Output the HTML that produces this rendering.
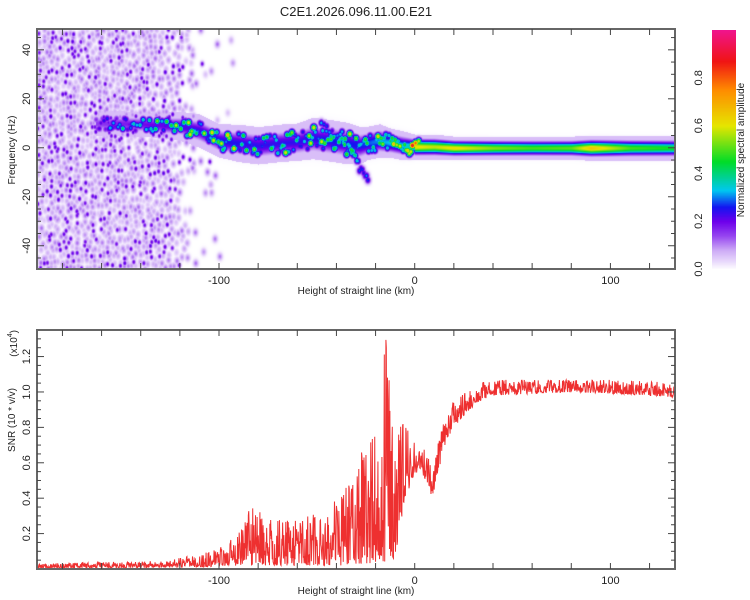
<!DOCTYPE html>
<html><head><meta charset="utf-8">
<style>
html,body{margin:0;padding:0;background:#fff;}
#wrap{position:relative;width:750px;height:600px;font-family:"Liberation Sans",sans-serif;}
canvas{position:absolute;}
svg{position:absolute;left:0;top:0;}
text{font-family:"Liberation Sans",sans-serif;fill:#222;}
</style></head>
<body>
<div id="wrap">
<canvas id="heat" width="638" height="240" style="left:37px;top:29px"></canvas>
<canvas id="cbar" width="24" height="239" style="left:712px;top:30px"></canvas>
<svg id="ov" width="750" height="600"></svg>
</div>
<script>
// ---- data ----
const xDomain = [-193, 133];
const freqDomain = [-49.5, 48.5];
const snrDomain = [0, 1.35];
const xTicks = [-180,-160,-140,-120,-100,-80,-60,-40,-20,0,20,40,60,80,100,120];
const xTickLabels = [-100, 0, 100];
const freqTickLabels = [40, 20, 0, -20, -40];
const snrTickLabels = [0.2, 0.4, 0.6, 0.8, 1.0, 1.2];
const cbarTickLabels = [0.0, 0.2, 0.4, 0.6, 0.8];
// ridge (main signal) : height km, centre freq Hz, amplitude, half-width Hz
const ridgeKm   = [-163,-150,-135,-120,-110,-100,-90,-80,-69,-60,-52,-43,-35,-28,-24,-18,-12,-6,0,10,20,40,60,80,90,110,133];
const ridgeFreq = [10,10,9.5,9,7,3,2,1,2,2.5,4,3,2,1,2,3,2,1,0.5,0.5,0,0,0,0,0,0,0];
const ridgeAmp  = [0.3,0.35,0.4,0.45,0.48,0.52,0.5,0.48,0.48,0.48,0.5,0.52,0.52,0.52,0.57,0.62,0.67,0.67,0.77,0.72,0.77,0.67,0.62,0.64,0.82,0.62,0.57];
const ridgeWidth= [3,3,3,3.5,4,4,4.5,4.5,4.5,4.5,5,5,5,4.5,4,4,3.5,3.5,3,3,2.8,2.8,2.8,2.8,3,3,3];
// secondary descending branch
const branchKm   = [-48,-40,-34,-28,-24];
const branchFreq = [9,5,0,-8,-13];
const branchAmp  = [0.3,0.4,0.45,0.35,0.25];
// background noise density
const noiseKm   = [-193,-150,-132,-124,-118,-110,-100,-92,133];
const noiseLevel= [1.0,0.95,0.85,0.55,0.25,0.08,0.03,0.0,0.0];
// SNR envelope (x1e4)
const snrKm   = [-193,-160,-130,-110,-100,-90,-84,-75,-60,-45,-38,-30,-26,-20,-15,-12,-10,-6,-2,2,6,9,12,16,20,26,33,40,60,80,100,120,133];
const snrLow  = [0.005,0.005,0.008,0.01,0.015,0.02,0.02,0.02,0.02,0.02,0.02,0.03,0.03,0.03,0.04,0.05,0.06,0.3,0.5,0.55,0.5,0.4,0.55,0.72,0.8,0.88,0.95,0.98,0.99,1.0,0.99,0.98,0.97];
const snrHigh = [0.03,0.04,0.05,0.08,0.12,0.2,0.37,0.28,0.3,0.33,0.43,0.55,0.79,0.85,1.35,1.0,0.95,0.85,0.76,0.72,0.68,0.55,0.72,0.88,0.95,1.0,1.05,1.07,1.07,1.07,1.07,1.06,1.05];

// ---- scales ----
const L=37,R=675,T1=29,B1=269,T2=330,B2=569;
const xS = km => L + (km - xDomain[0])/(xDomain[1]-xDomain[0])*(R-L);
const kmOf = px => xDomain[0] + (px-L)/(R-L)*(xDomain[1]-xDomain[0]);
const fS = f => B1 - (f - freqDomain[0])/(freqDomain[1]-freqDomain[0])*(B1-T1);
const sS = v => B2 - (v - snrDomain[0])/(snrDomain[1]-snrDomain[0])*(B2-T2);
function interp(xs, ys, x){
  if (x<=xs[0]) return ys[0];
  for (let i=1;i<xs.length;i++) if (x<=xs[i]) {const t=(x-xs[i-1])/(xs[i]-xs[i-1]); return ys[i-1]+t*(ys[i]-ys[i-1]);}
  return ys[ys.length-1];
}
function hash(a,b){let h=Math.sin(a*127.1+b*311.7)*43758.5453;return h-Math.floor(h);}
function cmap(v){
  const st=[[0,255,255,255],[0.03,235,220,252],[0.08,205,170,246],[0.14,150,70,240],[0.2,110,0,235],[0.26,20,20,240],[0.33,0,200,240],[0.45,0,220,40],[0.6,230,230,0],[0.75,255,140,0],[0.87,240,20,20],[1,240,20,140]];
  v=Math.max(0,Math.min(1,v));
  for(let i=1;i<st.length;i++) if(v<=st[i][0]){const t=(v-st[i-1][0])/(st[i][0]-st[i-1][0]);return [0,1,2].map(k=>Math.round(st[i-1][k+1]+t*(st[i][k+1]-st[i-1][k+1])));}
  return [240,20,140];
}

// ---- heatmap ----
(function(){
  const c=document.getElementById('heat'),ctx=c.getContext('2d');
  const W=c.width,H=c.height;
  const field=new Float32Array(W*H);
  for(let px=0;px<W;px++){
    const km=kmOf(px+L);
    const fc=interp(ridgeKm,ridgeFreq,km), amp=interp(ridgeKm,ridgeAmp,km), w=interp(ridgeKm,ridgeWidth,km);
    if(km<ridgeKm[0]) continue;
    for(let py=0;py<H;py++){
      const f=freqDomain[1]-(py/H)*(freqDomain[1]-freqDomain[0]);
      const d=(f-fc)/w;
      let v = km>0 ? amp*0.8*Math.exp(-d*d*1.5) : amp*0.5*Math.exp(-d*d*1.3);
      if(Math.abs(d)<1.7) v=Math.max(v,0.06);
      field[py*W+px]=v;
    }
  }
  function blob(cx,cy,rx,ry,a){
    for(let x=Math.floor(cx-2*rx);x<=cx+2*rx;x++){if(x<0||x>=W)continue;
      for(let y=Math.floor(cy-2*ry);y<=cy+2*ry;y++){if(y<0||y>=H)continue;
        const dx=(x-cx)/rx,dy=(y-cy)/ry,v=a*Math.exp(-(dx*dx+dy*dy));
        const i=y*W+x; if(v>field[i])field[i]=v;}}
  }
  for(let gx=0;gx<W/4;gx++){
    const km=kmOf(gx*4+L), nl=interp(noiseKm,noiseLevel,km);
    if(nl<=0)continue;
    for(let gy=0;gy<H/5;gy++){
      const h=hash(gx,gy);
      if(h<nl*0.9){
        const cx=gx*4+2+(hash(gx+1,gy)-0.5)*4, cy=gy*5+2.5+(hash(gx,gy+1)-0.5)*5;
        const dark=hash(gx+3,gy+9);
        const a = dark<0.22 ? 0.19+0.04*hash(gx,gy+4) : 0.05+0.07*hash(gx+5,gy+2);
        blob(cx,cy,dark<0.22?1.9:2.6,dark<0.22?2.6:3.6,a);
      }
    }
  }
  for(let km=ridgeKm[0];km<=2;km+=0.8){
    const fc=interp(ridgeKm,ridgeFreq,km),amp=interp(ridgeKm,ridgeAmp,km),w=interp(ridgeKm,ridgeWidth,km);
    const k=Math.round(km*10);
    const off=(hash(k,1)-0.5)*1.8*w;
    const r=hash(k,2);
    blob(xS(km)-L, fS(fc+off)-T1, 3.2, 3.6, amp*(0.55+0.85*r*r));
  }
  for(let km=branchKm[0];km<=branchKm[branchKm.length-1];km+=0.7){
    const bf=interp(branchKm,branchFreq,km),ba=interp(branchKm,branchAmp,km);
    blob(xS(km)-L, fS(bf+(hash(Math.round(km*10),6)-0.5)*4)-T1, 2.8, 3.6, ba*(0.6+0.6*hash(Math.round(km*10),5)));
  }
  const img=ctx.createImageData(W,H);
  for(let i=0;i<W*H;i++){const col=cmap(field[i]);img.data[i*4]=col[0];img.data[i*4+1]=col[1];img.data[i*4+2]=col[2];img.data[i*4+3]=255;}
  ctx.putImageData(img,0,0);
  const cb=document.getElementById('cbar'),cx2=cb.getContext('2d');
  for(let y=0;y<cb.height;y++){const col=cmap(1-y/cb.height);cx2.fillStyle=`rgb(${col})`;cx2.fillRect(0,y,24,1);}
})();

// ---- SVG overlay ----
const NS='http://www.w3.org/2000/svg', svg=document.getElementById('ov');
function el(tag,attrs,parent){const e=document.createElementNS(NS,tag);for(const k in attrs)e.setAttribute(k,attrs[k]);(parent||svg).appendChild(e);return e;}
function txt(x,y,s,size,rot,anchor){const e=el('text',{x:x,y:y,'font-size':size,'text-anchor':anchor||'middle'});if(rot)e.setAttribute('transform',`rotate(${rot} ${x} ${y})`);e.textContent=s;return e;}

(function(){
  let pts=[];
  const N=1600;
  for(let i=0;i<=N;i++){
    const km=xDomain[0]+i/N*(xDomain[1]-xDomain[0]);
    const lo=interp(snrKm,snrLow,km),hi=interp(snrKm,snrHigh,km);
    let h=hash(i,3.3); h=Math.pow(h,1.6);
    pts.push(xS(km).toFixed(2)+','+sS(lo+(hi-lo)*h).toFixed(2));
  }
  const p=el('polyline',{points:pts.join(' '),fill:'none',stroke:'#ee3030','stroke-width':1});
  
  
})();

[[T1,B1,'spectrogram-frame'],[T2,B2,'snr-frame']].forEach(([t,b,n])=>{
  const r=el('rect',{x:L,y:t,width:R-L,height:b-t,fill:'none',stroke:'#666','stroke-width':2});
  
  
});
[[T1,B1],[T2,B2]].forEach(([t,b])=>{
  xTicks.forEach(k=>{const x=xS(k);el('line',{x1:x,x2:x,y1:b,y2:b-6,stroke:'#444'});el('line',{x1:x,x2:x,y1:t,y2:t+6,stroke:'#444'});});
  xTickLabels.forEach(k=>{const e=txt(xS(k),b+15,String(k),11);});
  const xt=txt(356,b+25,'Height of straight line (km)',10);
  
  
});
for(let f=-45;f<=45;f+=5){const y=fS(f),len=f%20===0?7:4;el('line',{x1:L,x2:L+len,y1:y,y2:y,stroke:'#444'});el('line',{x1:R,x2:R-len,y1:y,y2:y,stroke:'#444'});}
freqTickLabels.forEach(f=>{const e=txt(30,fS(f),String(f),11,-90);});
const yt1=txt(15,150,'Frequency (Hz)',10,-90);


for(let i=1;i<=26;i++){const v=i*0.05,y=sS(v),len=(i%4===0)?7:4;el('line',{x1:L,x2:L+len,y1:y,y2:y,stroke:'#444'});el('line',{x1:R,x2:R-len,y1:y,y2:y,stroke:'#444'});}
snrTickLabels.forEach(v=>{const e=txt(30,sS(v),v.toFixed(1),11,-90);});
const yt2=txt(15,420,'SNR (10 * v/v)',10,-90);


const sc=txt(17,330,'(x10',10,-90,'end');
const sup=el('tspan',{'font-size':7,dy:-5});sup.textContent='4';sc.appendChild(sup);
const cl=el('tspan',{'font-size':10,dy:5});cl.textContent=')';sc.appendChild(cl);


cbarTickLabels.forEach(v=>{const y=269-v*239;const e=txt(702,y,v.toFixed(1),11,-90);});
const ct=el('text',{x:744,y:150,'font-size':10,'text-anchor':'middle',transform:'rotate(-90 744 150)'});
ct.textContent='Normalized spectral amplitude';


const tt=txt(356,16,'C2E1.2026.096.11.00.E21',13);


</script>
</body></html>
